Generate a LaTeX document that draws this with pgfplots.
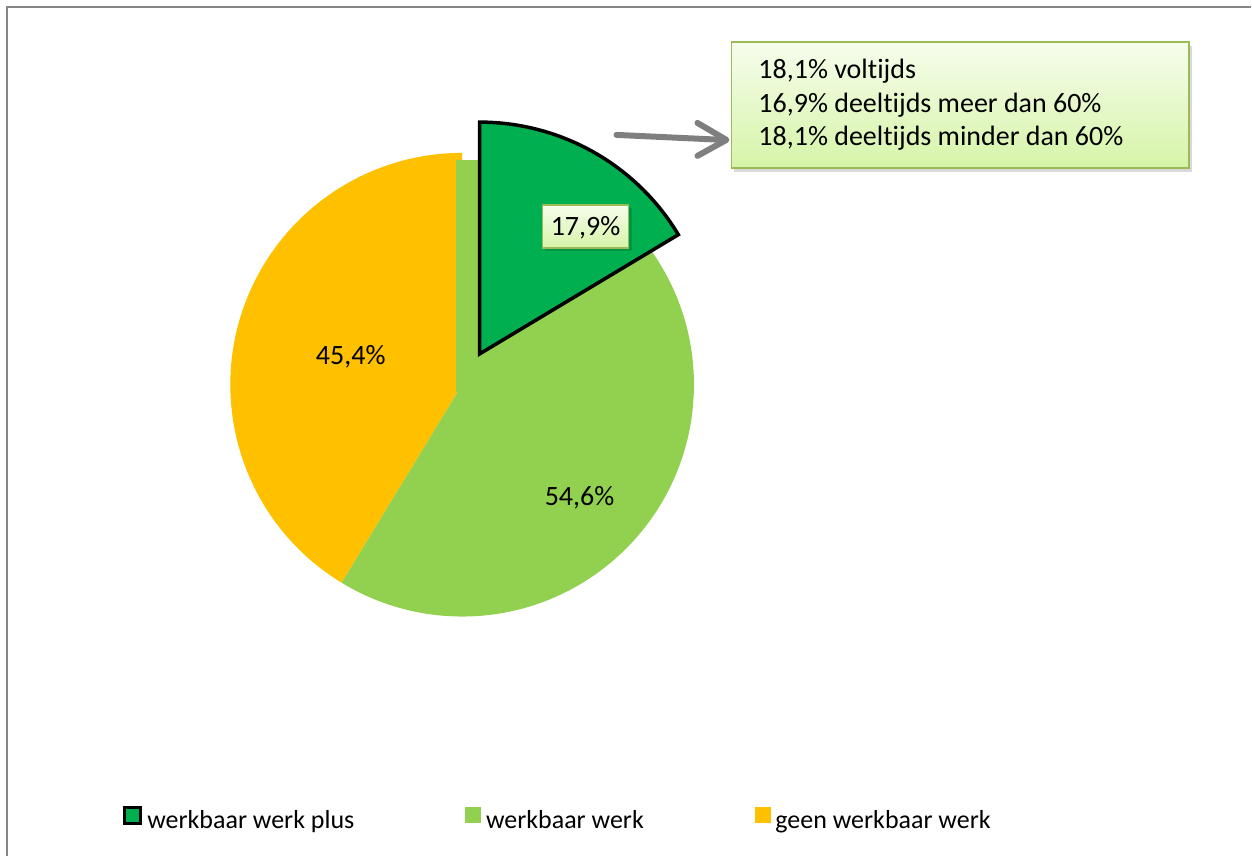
\documentclass[border=0pt]{standalone}
\usepackage{fontspec}
\setmainfont{Carlito}[Ligatures=NoCommon]
\usepackage{pgfplots}
\pgfplotsset{compat=1.18}
\definecolor{dkgreen}{HTML}{00B050}
\definecolor{ltgreen}{HTML}{92D050}
\definecolor{gold}{HTML}{FFC000}
\definecolor{framegray}{HTML}{868686}
\definecolor{arrowgray}{HTML}{7F7F7F}
\definecolor{boxedge}{HTML}{9BBB59}
\definecolor{boxtop}{HTML}{F6FDEC}
\definecolor{boxbot}{HTML}{D6F4A8}
% drawn shares of the pie (percent of the full circle)
\def\sPlus{16.4}
\def\sWerk{42.3}
\def\sGeen{41.3}
\begin{document}
\begin{tikzpicture}
\begin{axis}[
  scale only axis, width=626pt, height=428.5pt,
  xmin=0, xmax=1252, ymin=0, ymax=857, y dir=reverse,
  hide axis, clip=false,
  legend columns=3,
  legend cell align=left,
  legend style={at={(axis cs:123,819)}, anchor=west, draw=none, fill=none,
    inner sep=0pt, font=\fontsize{13pt}{15pt}\selectfont,
    nodes={inner sep=0pt},
    /tikz/every odd column/.style={column sep=2.5pt},
    /tikz/every even column/.style={column sep=55.5pt}},
]
\path (axis cs:0,0) rectangle (axis cs:1252,857);
\pgfmathsetmacro{\aA}{90-3.6*\sPlus}
\pgfmathsetmacro{\aB}{\aA-3.6*\sWerk}
\pgfmathsetmacro{\aMid}{(90+\aA)/2}
% yellow slice
\fill[gold] (axis cs:462.5,385) -- ++(\aB:116pt) arc[start angle=\aB, end angle=-270, radius=116pt] -- cycle;
% light green slice
\fill[ltgreen] (axis cs:462.5,385) -- ++(85:116pt) arc[start angle=85, end angle=\aB, radius=116pt] -- cycle;
\fill[ltgreen] (axis cs:456.7,160) rectangle (axis cs:481,392);
% exploded dark green slice
\begin{scope}[shift={(\aMid:17.7pt)}]
\draw[fill=dkgreen, draw=black, line width=1.75pt, line join=miter] (axis cs:462.5,385) -- ++(90:116pt) arc[start angle=90, end angle=\aA, radius=116pt] -- cycle;
\end{scope}
% data labels
\node[anchor=base, font=\fontsize{14pt}{17pt}\selectfont] at (axis cs:351,365) {45,4\%};
\node[anchor=base, font=\fontsize{14pt}{17pt}\selectfont] at (axis cs:580,506) {54,6\%};
\fill[black, opacity=0.15] (axis cs:545,208) rectangle (axis cs:632,251);
\shade[top color=boxtop, bottom color=boxbot, draw=boxedge, line width=0.7pt] (axis cs:543,205) rectangle (axis cs:629,248);
\node[anchor=base, font=\fontsize{14pt}{17pt}\selectfont] at (axis cs:586,236) {17,9\%};
% arrow
\draw[arrowgray, line width=3pt, line cap=round] (axis cs:617,135) -- (axis cs:724,140);
\draw[arrowgray, line width=3pt, line cap=round, line join=round] (axis cs:698,123) -- (axis cs:727,140) -- (axis cs:698,156);
% callout box
\fill[black, opacity=0.15] (axis cs:735,46) rectangle (axis cs:1193,172);
\shade[top color=boxtop, bottom color=boxbot, draw=boxedge, line width=0.9pt] (axis cs:732,42) rectangle (axis cs:1190,168);
\node[anchor=base west, font=\fontsize{14pt}{17pt}\selectfont] at (axis cs:752,79) {18,1\% voltijds};
\node[anchor=base west, font=\fontsize{14pt}{17pt}\selectfont] at (axis cs:752,112.5) {16,9\% deeltijds meer dan 60\%};
\node[anchor=base west, font=\fontsize{14pt}{17pt}\selectfont] at (axis cs:752,146) {18,1\% deeltijds minder dan 60\%};
% chart frame
\draw[framegray, line width=1pt] (axis cs:7.5,857) -- (axis cs:7.5,7) -- (axis cs:1252,7);
% legend
\addlegendimage{legend image code/.code={\draw[fill=dkgreen, draw=black, line width=1.5pt] (0.75pt,-1.25pt) rectangle (8.75pt,6.75pt);}}
\addlegendentry{werkbaar werk plus}
\addlegendimage{legend image code/.code={\fill[ltgreen] (0pt,-1pt) rectangle (7.5pt,6.5pt);}}
\addlegendentry{werkbaar werk}
\addlegendimage{legend image code/.code={\fill[gold] (0pt,-1pt) rectangle (7.5pt,6.5pt);}}
\addlegendentry{geen werkbaar werk}
\end{axis}
\end{tikzpicture}
\end{document}
